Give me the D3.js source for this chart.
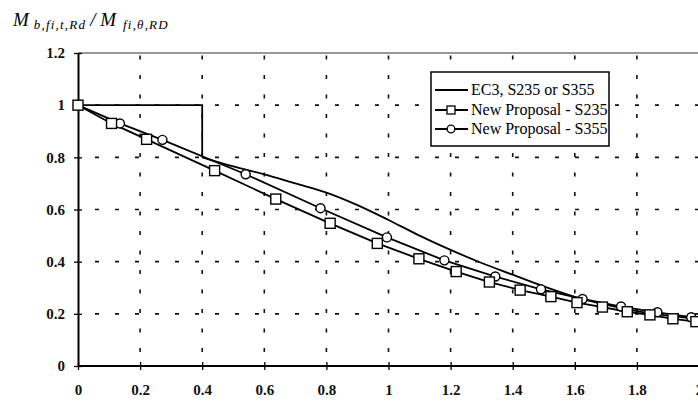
<!DOCTYPE html>
<html>
<head>
<meta charset="utf-8">
<script src="https://cdn.jsdelivr.net/npm/d3@7"></script>
<style>
  html, body { margin: 0; padding: 0; background: #fff; }
  svg { display: block; }
</style>
</head>
<body>
<svg id="chart" width="698" height="402"></svg>
<script>
// ---- data ----
const xTicks = [0, 0.2, 0.4, 0.6, 0.8, 1, 1.2, 1.4, 1.6, 1.8, 2];
const yTicks = [0, 0.2, 0.4, 0.6, 0.8, 1, 1.2];
const xTickLabels = ["0", "0.2", "0.4", "0.6", "0.8", "1", "1.2", "1.4", "1.6", "1.8", "2"];
const yTickLabels = ["0", "0.2", "0.4", "0.6", "0.8", "1", "1.2"];

// EC3, S235 or S355 (step then smooth curve)
const ec3StepX = [0, 0.4, 0.4];
const ec3StepY = [1, 1, 0.8];
const ec3CurveX = [0.4, 0.5, 0.6, 0.7, 0.8, 0.9, 1.0, 1.1, 1.2, 1.3, 1.4, 1.5, 1.6, 1.7, 1.8, 1.9, 2.0];
const ec3CurveY = [0.8, 0.765, 0.735, 0.70, 0.665, 0.617, 0.56, 0.50, 0.445, 0.395, 0.35, 0.305, 0.265, 0.235, 0.21, 0.193, 0.18];

// New Proposal - S235 (squares)
const s235X = [0, 0.108, 0.221, 0.44, 0.637, 0.812, 0.964, 1.098, 1.218, 1.325, 1.424, 1.523, 1.607, 1.689, 1.769, 1.842, 1.916, 1.99];
const s235Y = [1, 0.93, 0.869, 0.749, 0.640, 0.547, 0.470, 0.411, 0.362, 0.322, 0.291, 0.266, 0.243, 0.226, 0.208, 0.196, 0.181, 0.17];

// New Proposal - S355 (circles)
const s355X = [0, 0.135, 0.272, 0.54, 0.781, 0.995, 1.18, 1.344, 1.491, 1.625, 1.749, 1.866, 1.975];
const s355Y = [1, 0.93, 0.867, 0.735, 0.605, 0.493, 0.405, 0.343, 0.294, 0.257, 0.228, 0.206, 0.187];

const legendLabels = ["EC3, S235 or S355", "New Proposal - S235", "New Proposal - S355"];

// ---- drawing ----
const svg = d3.select("#chart");
const x = d3.scaleLinear().domain([0, 2]).range([78, 699]);
const y = d3.scaleLinear().domain([0, 1.2]).range([366, 53]);
const font = "'Liberation Serif', 'Times New Roman', serif";

svg.append("rect").attr("width", 698).attr("height", 402).attr("fill", "#fff");

// grid lines (dashed)
const grid = svg.append("g");
grid.selectAll("line.h").data(yTicks.filter(v => v > 0 && v < 1.2)).join("line")
  .attr("x1", x(0)).attr("x2", 698)
  .attr("y1", d => y(d)).attr("y2", d => y(d))
  .attr("stroke", "#111").attr("stroke-width", 1.6)
  .attr("stroke-dasharray", "4,16").attr("stroke-dashoffset", -17);
grid.selectAll("line.v").data(xTicks.filter(v => v > 0 && v < 2)).join("line")
  .attr("x1", d => x(d)).attr("x2", d => x(d))
  .attr("y1", y(0)).attr("y2", y(1.2))
  .attr("stroke", "#111").attr("stroke-width", 1.6)
  .attr("stroke-dasharray", "4,15.5").attr("stroke-dashoffset", -14);

// top border
svg.append("line")
  .attr("x1", x(0)).attr("x2", 698).attr("y1", y(1.2)).attr("y2", y(1.2))
  .attr("stroke", "#333").attr("stroke-width", 1.2);

// axes
const xAxis = d3.axisBottom(x).tickValues(xTicks).tickFormat((d, i) => xTickLabels[i])
  .tickSizeInner(4).tickSizeOuter(0).tickPadding(14);
const gx = svg.append("g").attr("transform", `translate(0,${y(0)})`).call(xAxis);
gx.select(".domain").attr("stroke", "#000").attr("stroke-width", 2).attr("d", `M${x(0)},0H698`);
gx.selectAll(".tick line").attr("y1", -4).attr("y2", 4).attr("stroke", "#000").attr("stroke-width", 1.3);
gx.selectAll(".tick text").attr("font-family", font).attr("font-size", 15).attr("font-weight", "bold")
  .attr("fill", "#111");

const yAxis = d3.axisLeft(y).tickValues(yTicks).tickFormat((d, i) => yTickLabels[i])
  .tickSizeInner(4).tickSizeOuter(0).tickPadding(9);
const gy = svg.append("g").attr("transform", `translate(${x(0)},0)`).call(yAxis);
gy.select(".domain").attr("stroke", "#000").attr("stroke-width", 2);
gy.selectAll(".tick line").attr("x1", -4).attr("x2", 4).attr("stroke", "#000").attr("stroke-width", 1.3);
gy.selectAll(".tick text").attr("font-family", font).attr("font-size", 15).attr("font-weight", "bold")
  .attr("fill", "#111");

// EC3 lines
const lin = d3.line().x(d => x(d[0])).y(d => y(d[1]));
const smooth = d3.line().x(d => x(d[0])).y(d => y(d[1])).curve(d3.curveMonotoneX);
svg.append("path").datum(ec3StepX.map((v, i) => [v, ec3StepY[i]]))
  .attr("d", lin).attr("fill", "none").attr("stroke", "#000").attr("stroke-width", 1.8);
svg.append("path").datum(ec3CurveX.map((v, i) => [v, ec3CurveY[i]]))
  .attr("d", smooth).attr("fill", "none").attr("stroke", "#000").attr("stroke-width", 1.8);

// S235 line + squares
const s235 = s235X.map((v, i) => [v, s235Y[i]]);
const s355 = s355X.map((v, i) => [v, s355Y[i]]);
svg.append("path").datum(s235).attr("d", lin).attr("fill", "none").attr("stroke", "#000").attr("stroke-width", 1.8);
svg.append("path").datum(s355).attr("d", lin).attr("fill", "none").attr("stroke", "#000").attr("stroke-width", 1.8);

svg.append("g").selectAll("circle").data(s355).join("circle")
  .attr("cx", d => x(d[0])).attr("cy", d => y(d[1])).attr("r", 4.5)
  .attr("fill", "#fff").attr("stroke", "#000").attr("stroke-width", 1.4);
svg.append("g").selectAll("rect").data(s235).join("rect")
  .attr("x", d => x(d[0]) - 5).attr("y", d => y(d[1]) - 5).attr("width", 10).attr("height", 10)
  .attr("fill", "#fff").attr("stroke", "#000").attr("stroke-width", 1.4);

// legend
const lg = svg.append("g");
lg.append("rect").attr("x", 431).attr("y", 72).attr("width", 178).attr("height", 74)
  .attr("fill", "#fff").attr("stroke", "#000").attr("stroke-width", 1.5);
const rowsY = [90, 110, 129];
legendLabels.forEach((lab, i) => {
  const ry = rowsY[i];
  lg.append("line").attr("x1", 435).attr("x2", 468).attr("y1", ry).attr("y2", ry)
    .attr("stroke", "#000").attr("stroke-width", 1.8);
  if (i === 1) {
    lg.append("rect").attr("x", 447).attr("y", ry - 4).attr("width", 8).attr("height", 8)
      .attr("fill", "#fff").attr("stroke", "#000").attr("stroke-width", 1.3);
  } else if (i === 2) {
    lg.append("circle").attr("cx", 451).attr("cy", ry).attr("r", 3.8)
      .attr("fill", "#fff").attr("stroke", "#000").attr("stroke-width", 1.3);
  }
  lg.append("text").attr("x", 471).attr("y", ry + 5).text(lab)
    .attr("font-family", font).attr("font-size", 16).attr("fill", "#000");
});

// y-axis title
const title = svg.append("text").attr("x", 13).attr("y", 26)
  .attr("font-family", font).attr("font-style", "italic").attr("fill", "#000");
title.append("tspan").attr("font-size", 19).text("M");
title.append("tspan").attr("font-size", 13).attr("dx", 5).attr("dy", 3)
  .attr("letter-spacing", 1.2).text("b,fi,t,Rd");
title.append("tspan").attr("font-size", 19).attr("dx", 4).attr("dy", -3).text("/ M");
title.append("tspan").attr("font-size", 13).attr("dx", 7).attr("dy", 3)
  .attr("letter-spacing", 1.2).text("fi,θ,RD");
</script>
</body>
</html>
